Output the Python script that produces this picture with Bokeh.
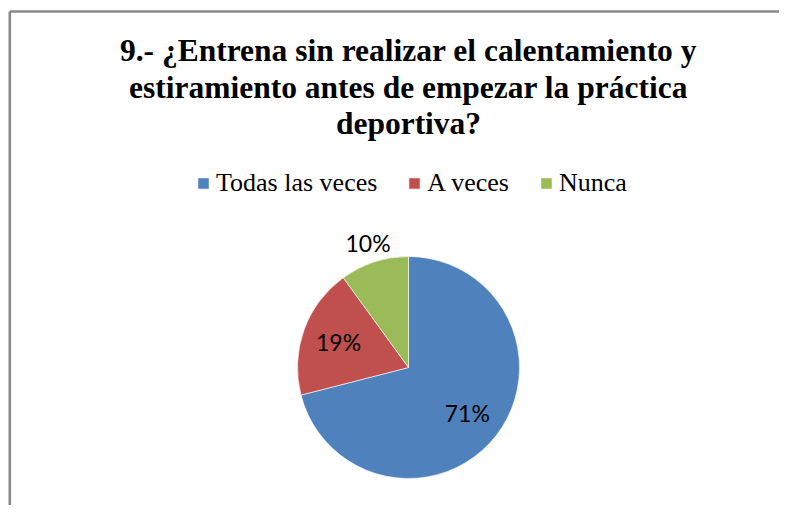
import math
from bokeh.plotting import figure
from bokeh.models import Range1d, Legend, LegendItem, ColumnDataSource
from bokeh.core.properties import value
from bokeh.embed import file_html
from bokeh.resources import INLINE

# ---- data ----
categories = ["Todas las veces", "A veces", "Nunca"]
percentages = [71, 19, 10]
colors = ["#4F81BD", "#C0504D", "#9BBB59"]
title_lines = [
    "9.- ¿Entrena sin realizar el calentamiento y",
    "estiramiento antes de empezar la práctica",
    "deportiva?",
]

# ---- layout (pixel-like data units, y measured up from the bottom) ----
W, H = 779, 505
CX, CY, R = 408, H - 367, 111
label_dist = [0.67, 0.67, 1.18]

p = figure(width=W, height=H, output_backend="svg", toolbar_location=None,
           x_range=Range1d(0, W), y_range=Range1d(0, H),
           x_axis_location=None, y_axis_location=None, min_border=0)
p.grid.visible = False
p.outline_line_color = None
p.background_fill_color = "white"
p.border_fill_color = "white"

# chart frame (left & top edges visible; chart continues past the window)
p.multi_line(xs=[[9.3, 9.3], [9.3, W + 20]], ys=[[-20, H - 11], [H - 11, H - 11]],
             line_color="#888888", line_width=2.6)

total = sum(percentages)
starts, ends, mids = [], [], []
cum = 0.0
for v in percentages:
    a0 = math.pi / 2 - 2 * math.pi * (cum + v) / total
    a1 = math.pi / 2 - 2 * math.pi * cum / total
    starts.append(a0)
    ends.append(a1)
    mids.append((a0 + a1) / 2)
    cum += v

src = ColumnDataSource(dict(cat=categories, start=starts, end=ends, color=colors,
                            x=[CX] * 3, y=[CY] * 3))
wedges = p.wedge(x="x", y="y", radius=R, start_angle="start", end_angle="end",
                 fill_color="color", line_color="white", line_width=0.6, source=src)

lx = [CX + R * d * math.cos(m) for d, m in zip(label_dist, mids)]
ly = [CY + R * d * math.sin(m) for d, m in zip(label_dist, mids)]
labels = [f"{v / total * 100:.0f}%" for v in percentages]
p.text(x=lx, y=ly, text=labels, text_align="center", text_baseline="middle",
       text_font=value("Lato"), text_font_size="23px", text_color="black")

# title
tb = [H - 50, H - 87, H - 123]
p.text(x=[408] * 3, y=tb, text=title_lines, text_align="center",
       text_baseline="alphabetic", text_font=value("Liberation Serif"),
       text_font_style="bold", text_font_size="31.5px", text_color="black")

legend = Legend(items=[LegendItem(label=c, renderers=[wedges], index=i)
                       for i, c in enumerate(categories)],
                orientation="horizontal", location=(196, H - 184.5 - 13.5),
                glyph_width=14, glyph_height=14, label_standoff=6, spacing=30,
                padding=0, margin=0, border_line_color=None,
                background_fill_alpha=0,
                label_text_font="Liberation Serif", label_text_font_size="26px",
                label_text_color="black")
p.add_layout(legend, "center")

open("out.html", "w").write(file_html(p, INLINE))
